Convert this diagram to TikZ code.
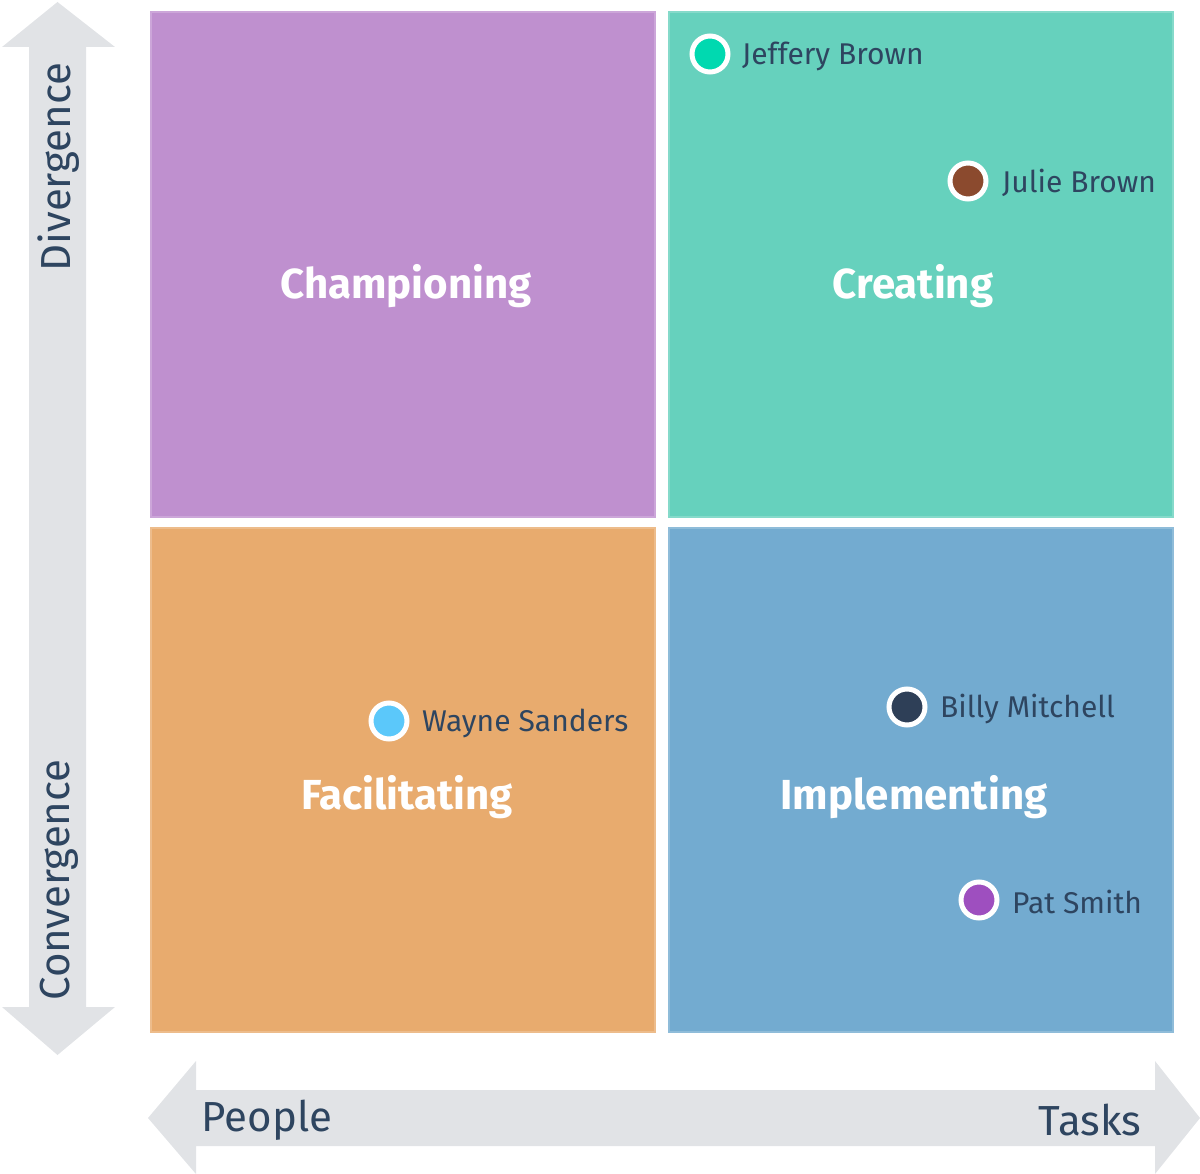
\documentclass[tikz,border=0pt]{standalone}
\usepackage{fontspec}
\setmainfont{Fira Sans}
\definecolor{cpurple}{HTML}{BF90CF}
\definecolor{cteal}{HTML}{66D1BD}
\definecolor{corange}{HTML}{E8AB6E}
\definecolor{cblue}{HTML}{73ABD0}
\definecolor{cgray}{HTML}{E1E3E6}
\definecolor{ctext}{HTML}{2E4560}
\definecolor{dJeff}{HTML}{00D9B0}
\definecolor{dJulie}{HTML}{8B4A2E}
\definecolor{dWayne}{HTML}{5BC8FA}
\definecolor{dBilly}{HTML}{2E3F57}
\definecolor{dPat}{HTML}{9E4FBF}
\tikzset{
  quad/.style={draw=#1!80!white, line width=1.5pt, fill=#1},
  qtitle/.style={text=white, font=\bfseries\fontsize{42}{48}\selectfont},
  axislabel/.style={text=ctext, font=\fontsize{42}{48}\selectfont},
  person/.style={text=ctext, font=\fontsize{30}{36}\selectfont, anchor=west, inner sep=0pt},
  dot/.style={circle, fill=#1, draw=white, line width=5pt, minimum size=36pt, inner sep=0pt}
}
\begin{document}
\begin{tikzpicture}[x=1pt,y=-1pt]
\useasboundingbox (0,0) rectangle (1200,1174);
% axes arrows
\fill[cgray] (29,1007) -- (29,47) -- (2,47) -- (57.5,2) -- (115,47) -- (86,47) -- (86,1007) -- (115,1007) -- (57.5,1055) -- (2,1007) -- cycle;
\fill[cgray] (196,1090) -- (1155,1090) -- (1155,1061) -- (1200,1118) -- (1155,1174) -- (1155,1146) -- (196,1146) -- (196,1174) -- (148,1118) -- (196,1061) -- cycle;
\node[axislabel, rotate=90] (div) at (59,167) {Divergence};
\node[axislabel, rotate=90] (conv) at (59,880) {Convergence};
\node[axislabel, anchor=west] (people) at (198,1120) {People};
\node[axislabel, anchor=east] (tasks) at (1145,1120) {Tasks};
% quadrants
\path[quad=cpurple] (151,12) rectangle (655,517);
\path[quad=cteal] (669,12) rectangle (1173,517);
\path[quad=corange] (151,528) rectangle (655,1032);
\path[quad=cblue] (669,528) rectangle (1173,1032);
\node[qtitle] (champ) at (406,286) {Championing};
\node[qtitle] (creat) at (913,286) {Creating};
\node[qtitle] (facil) at (407,797) {Facilitating};
\node[qtitle] (impl) at (914,797) {Implementing};
% people
\node[dot=dJeff] (d1) at (710,54) {};
\node[person] (t1) at (742,56) {Jeffery Brown};
\node[dot=dJulie] (d2) at (968,181) {};
\node[person] (t2) at (1002,183) {Julie Brown};
\node[dot=dWayne] (d3) at (389,721) {};
\node[person] (t3) at (422,723) {Wayne Sanders};
\node[dot=dBilly] (d4) at (907,707) {};
\node[person] (t4) at (940,709) {Billy Mitchell};
\node[dot=dPat] (d5) at (979,900) {};
\node[person] (t5) at (1012,902) {Pat Smith};
\end{tikzpicture}
\end{document}
